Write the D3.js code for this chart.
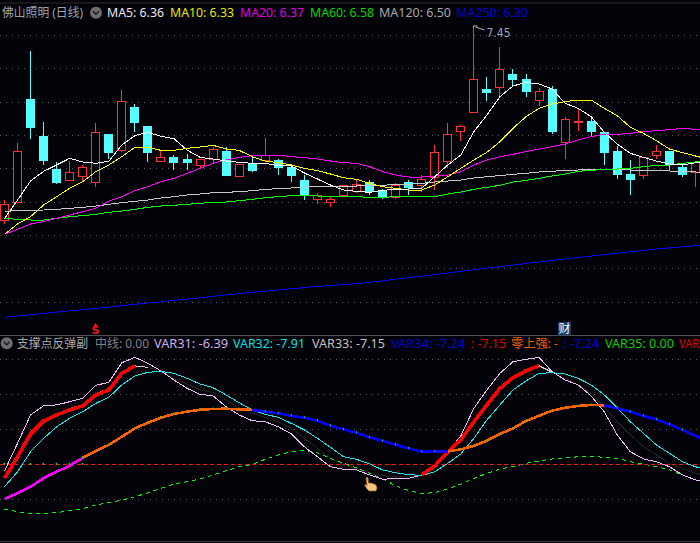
<!DOCTYPE html>
<html><head><meta charset="utf-8">
<script src="https://cdn.jsdelivr.net/npm/d3@7/dist/d3.min.js"></script>
<style>html,body{margin:0;padding:0;background:#020208;overflow:hidden}svg{display:block}</style>
</head><body><svg id="c" width="700" height="543"></svg>
<script>
// ---------- upper panel (prices) ----------
const highs=[6.41,6.75,7.304,6.878,6.636,6.644,6.62,6.872,6.806,7.07,6.986,6.854,6.71,6.68,6.686,6.656,6.728,6.728,6.626,6.666,6.782,6.656,6.626,6.56,6.452,6.426,6.5,6.53,6.53,6.476,6.51,6.53,6.558,6.74,6.872,6.86,7.442,7.146,7.328,7.196,7.166,7.08,7.094,6.908,6.962,6.9,6.818,6.734,6.65,6.668,6.74,6.702,6.626,6.638];
const bodyTop=[6.384,6.702,7.016,6.794,6.596,6.576,6.606,6.816,6.806,7.002,6.968,6.854,6.666,6.668,6.656,6.654,6.716,6.704,6.626,6.63,6.68,6.65,6.608,6.53,6.438,6.414,6.498,6.504,6.518,6.462,6.498,6.518,6.534,6.696,6.804,6.852,7.134,7.076,7.194,7.166,7.136,7.062,7.076,6.894,6.882,6.882,6.816,6.704,6.566,6.666,6.702,6.702,6.606,6.636];
const bodyBot=[6.288,6.396,6.848,6.65,6.518,6.532,6.556,6.516,6.698,6.71,6.878,6.698,6.644,6.638,6.638,6.62,6.656,6.56,6.554,6.59,6.65,6.61,6.56,6.44,6.414,6.396,6.44,6.462,6.464,6.426,6.426,6.488,6.498,6.548,6.644,6.822,6.936,7.058,7.086,7.136,7.064,7.012,6.824,6.76,6.876,6.824,6.698,6.566,6.536,6.56,6.68,6.626,6.566,6.578];
const lows=[6.266,6.396,6.776,6.62,6.506,6.532,6.518,6.488,6.656,6.698,6.818,6.638,6.644,6.59,6.59,6.604,6.63,6.56,6.55,6.578,6.65,6.56,6.518,6.41,6.386,6.368,6.44,6.45,6.44,6.414,6.416,6.44,6.46,6.47,6.6,6.764,6.936,7.004,7.026,7.088,7.028,6.974,6.806,6.656,6.824,6.794,6.62,6.536,6.44,6.536,6.656,6.584,6.548,6.488];
const rising=[1,1,0,0,0,1,1,1,0,1,0,0,1,0,0,1,1,0,1,0,1,0,0,0,1,1,1,1,0,0,1,0,1,1,1,1,1,0,1,0,0,1,0,1,1,0,0,0,0,1,1,0,0,1];
const ma5=[6.298,6.41,6.524,6.582,6.62,6.66,6.638,6.63,6.642,6.74,6.796,6.816,6.792,6.778,6.71,6.666,6.656,6.644,6.636,6.63,6.63,6.616,6.614,6.572,6.536,6.5,6.47,6.462,6.456,6.468,6.474,6.476,6.48,6.55,6.62,6.68,6.82,6.92,7.03,7.094,7.116,7.106,7.076,6.99,6.96,6.91,6.816,6.746,6.69,6.666,6.644,6.626,6.62,6.634,6.642];
const ma10=[6.204,6.266,6.31,6.38,6.43,6.48,6.52,6.58,6.62,6.67,6.726,6.726,6.708,6.708,6.72,6.728,6.738,6.716,6.708,6.67,6.644,6.634,6.62,6.6,6.586,6.566,6.544,6.534,6.51,6.49,6.48,6.47,6.47,6.5,6.55,6.6,6.65,6.696,6.76,6.84,6.91,6.96,6.986,7.0,7.01,7.01,6.96,6.916,6.846,6.81,6.766,6.716,6.694,6.674,6.654];
const ma20=[6.204,6.234,6.266,6.28,6.3,6.32,6.34,6.36,6.404,6.43,6.466,6.49,6.52,6.54,6.57,6.6,6.63,6.65,6.666,6.676,6.68,6.68,6.67,6.664,6.656,6.644,6.634,6.63,6.61,6.58,6.56,6.548,6.548,6.554,6.56,6.58,6.62,6.65,6.67,6.684,6.7,6.716,6.73,6.746,6.77,6.79,6.804,6.804,6.81,6.82,6.826,6.832,6.84,6.834,6.834];
const ma60=[6.3,6.294,6.29,6.29,6.3,6.31,6.316,6.324,6.336,6.344,6.354,6.366,6.374,6.378,6.384,6.39,6.396,6.398,6.406,6.414,6.424,6.43,6.436,6.438,6.434,6.432,6.43,6.43,6.426,6.426,6.43,6.43,6.43,6.43,6.446,6.458,6.474,6.486,6.498,6.518,6.528,6.54,6.554,6.566,6.582,6.588,6.594,6.596,6.6,6.61,6.618,6.62,6.63,6.638,6.642];
const ma120=[6.342,6.346,6.348,6.35,6.354,6.36,6.366,6.374,6.384,6.394,6.402,6.41,6.422,6.43,6.44,6.446,6.454,6.456,6.46,6.466,6.474,6.478,6.482,6.488,6.49,6.49,6.494,6.494,6.498,6.498,6.504,6.504,6.51,6.518,6.524,6.53,6.542,6.55,6.556,6.564,6.57,6.578,6.582,6.588,6.59,6.594,6.594,6.594,6.59,6.588,6.586,6.584,6.582,6.578,6.574];
const ma250=[5.706,5.714,5.722,5.73,5.738,5.745,5.752,5.76,5.768,5.776,5.784,5.792,5.799,5.808,5.816,5.823,5.832,5.84,5.848,5.856,5.863,5.871,5.878,5.885,5.892,5.897,5.902,5.908,5.916,5.925,5.934,5.944,5.953,5.962,5.973,5.982,5.992,6.002,6.01,6.02,6.029,6.038,6.048,6.056,6.065,6.074,6.082,6.091,6.1,6.108,6.116,6.123,6.13,6.136,6.144];
const priceGrid=[7.4,7.2,7.0,6.8,6.6,6.4,6.2,6.0,5.8];
// ---------- lower panel (indicator) ----------
const var31=[-3.3,10.5,24.7,29.3,29.7,31.3,33.0,39.5,41.0,50.8,53.5,50.5,46.7,42.2,38.0,35.0,34.2,28.8,24.7,21.8,21.3,18.8,15.2,8.8,3.8,-1.2,-2.5,-2.8,-5.3,-7.5,-7.0,-7.0,-5.3,-0.3,6.3,14.2,28.0,37.2,45.5,51.3,52.5,53.5,46.3,42.2,39.7,34.2,26.3,14.7,6.3,2.7,1.3,-1.2,-5.3,-7.8,-9];
const var32=[-11.2,-3.7,6.3,13.0,18.8,23.0,26.3,30.5,33.5,39.7,44.2,46.0,46.5,45.5,43.0,40.2,38.3,34.7,30.8,27.2,25.0,23.5,20.5,17.2,13.0,8.5,3.8,2.5,0.2,-2.8,-4.2,-5.2,-5.5,-3.7,0.5,5.2,13.0,22.2,29.7,37.2,41.7,45.5,45.8,45.2,43.0,39.7,34.7,28.3,21.3,15.5,9.7,5.5,1.3,-1.2,-3];
const var33=[-7.0,3.8,15.2,21.7,24.7,27.2,29.3,34.7,37.2,45.5,49.2,48.5,46.8,43.0,40.2,37.2,35.8,32.2,28.0,25.5,23.5,21.3,18.0,13.0,8.0,3.0,-0.3,-2.0,-4.5,-5.7,-6.2,-6.2,-5.3,-0.8,6.3,12.2,21.3,29.7,38.0,43.3,46.8,49.3,46.0,43.0,39.7,35.5,28.8,21.3,14.7,8.8,4.7,0.5,-2.0,-4.5,-6];
const var34=[-17.3,-14.5,-11.2,-7.0,-3.7,-0.7,3.3,6.7,9.7,13.8,18.0,20.8,23.3,25.2,26.3,27.3,27.7,27.8,27.5,27.2,26.3,25.5,24.3,23.3,21.8,19.3,17.5,15.8,13.5,11.7,9.7,8.0,6.3,6.3,6.5,7.5,9.2,11.8,15.2,18.0,21.7,24.3,26.8,28.3,29.2,29.7,29.5,28.0,26.3,24.2,22.5,20.0,17.2,14.2,11];
const var35=[-22.5,-23.7,-24.5,-24.5,-24.2,-23.2,-22.2,-20.3,-19.2,-17.8,-16.2,-14.2,-12.0,-9.8,-8.7,-7.3,-5.3,-3.2,-1.2,0,2.5,4.7,6.3,7.0,5.8,3.0,0.5,-1.7,-4.5,-7.3,-10.7,-13.2,-14.5,-14.2,-12.3,-9.8,-7.0,-4.5,-2.3,-1.2,0.5,1.7,2.7,3.3,3.8,4.0,3.5,3.0,1.3,0.2,-1.2,-2.8,-5.3,-7.8,-9.5];
const indGrid=[52.5,35,17.5,-17.5];
const redRanges=[[0,10],[32,41]];
const whiteRanges=[[10,11],[41,42]];
const magentaRanges=[[0,6]];
const orangeRanges=[[6,19],[34,46]];
const blueRanges=[[19,34],[46,54]];
const zeroTicks=[0,2,3,4,5,6];
const lineTicks=[6,7,8,10,11,12,13,14,15,16,17,18,20,21,22,23,24,25,26,27,28,29,30,31,32,33,35,36,37,38,39,40,41,42,43,44,45,47,48,49,50,51,52];
// ---------- text ----------
const upperLabels=["佛山照明 (日线)","MA5: 6.36","MA10: 6.33","MA20: 6.37","MA60: 6.58","MA120: 6.50","MA250: 6.30"];
const upperColors=["#9aa4b0","#e8e8e8","#e8e800","#e000e0","#00d800","#a8a8a8","#0000d8"];
const upperX=[2,107,170,240,310,379,456];
const upperW=[81,57,64,64,64,72,72];
const lowerLabels=["支撑点反弹副","中线: 0.00","VAR31: -6.39","VAR32: -7.91","VAR33: -7.15","VAR34: -7.24",": -7.15","零上强: -",": -7.24","VAR35: 0.00","VAR"];
const lowerColors=["#a8a8a8","#808080","#d0b0f0","#00e0e0","#c0c0c0","#0000d8","#e00000","#f06000","#0000d8","#00d000","#e00000"];
const lowerX=[17,95,154,233,312,391,471,511,563,605,679];
const lowerW=[71,54,74,72,73,74,35,47,36,69,20];
const peakLabel="7.45";

const svg=d3.select("#c");
const bg="#020208";
svg.append("rect").attr("width",700).attr("height",543).attr("fill",bg);
const x=d3.scaleLinear().domain([0,53]).range([4.5,695.5]);
const y=d3.scaleLinear().domain([7.61,5.6]).range([0,335]);
const yi=d3.scaleLinear().domain([0,-10]).range([464.33,484.33]);
const idx=d3.range(55);
// frame lines
[[3,"#2c2c2c"],[335.5,"#505050"],[541.5,"#404040"]].forEach(([p,c])=>svg.append("line").attr("x1",0).attr("x2",700).attr("y1",p).attr("y2",p).attr("stroke",c));
// grids
const dot="1 5";
svg.append("g").selectAll("line").data(priceGrid).join("line").attr("x1",0).attr("x2",700)
 .attr("y1",d=>Math.round(y(d))+.5).attr("y2",d=>Math.round(y(d))+.5).attr("stroke","#5a5a5a").attr("stroke-dasharray",dot);
svg.append("g").selectAll("line").data(indGrid).join("line").attr("x1",0).attr("x2",700)
 .attr("y1",d=>Math.round(yi(d))+.5).attr("y2",d=>Math.round(yi(d))+.5).attr("stroke","#5a5a5a").attr("stroke-dasharray",dot);
// candles
const red="#ff3232",cyan="#54ffff";
const snap=v=>Math.round(v)+.5;
const cg=svg.append("g").attr("shape-rendering","crispEdges");
d3.range(54).forEach(i=>{
  const c=rising[i]?red:cyan, X=Math.floor(x(i))+.5;
  const t=snap(y(bodyTop[i])), b=snap(y(bodyBot[i]));
  cg.append("line").attr("x1",X).attr("x2",X).attr("y1",y(highs[i])).attr("y2",t).attr("stroke",c);
  cg.append("line").attr("x1",X).attr("x2",X).attr("y1",b).attr("y2",y(lows[i])).attr("stroke",c);
  cg.append("rect").attr("x",X-4).attr("width",8).attr("y",t).attr("height",Math.max(b-t,1))
    .attr("fill",rising[i]?bg:cyan).attr("stroke",c);
});
// moving averages
const lineP=d3.line().x((d,i)=>x(i)).y(d=>y(d));
[[ma250,"#0000ff"],[ma120,"#c8c8c8"],[ma60,"#00ff00"],[ma20,"#ff00ff"],[ma10,"#ffff00"],[ma5,"#ffffff"]].forEach(([d,c])=>
  svg.append("path").attr("d",lineP(d)).attr("fill","none").attr("stroke",c).attr("stroke-width",1).attr("shape-rendering","crispEdges"));
// peak annotation
const px=Math.floor(x(36))+.5, py=y(highs[36]);
svg.append("path").attr("d",`M${px},${py} L${px},${py-2} L${px+4},${py-2} M${px+2},${py-1} L${px+11},${py+2}`)
  .attr("fill","none").attr("stroke","#b0b0b0");
svg.append("text").attr("x",px+13).attr("y",py+9).attr("fill","#a0a8b4").attr("font-size",12.5)
  .attr("font-family","DejaVu Sans").attr("textLength",24).attr("lengthAdjust","spacingAndGlyphs").text(peakLabel);
// headers
function headers(labels,colors,xs,ws,base){
  labels.forEach((t,i)=>{
    svg.append("text").attr("x",xs[i]).attr("y",base).attr("fill",colors[i]).attr("font-size",12.5)
      .attr("font-family","'Noto Sans','Noto Sans CJK SC',sans-serif")
      .attr("textLength",ws[i]).attr("lengthAdjust","spacingAndGlyphs").text(t);
  });
}
headers(upperLabels,upperColors,upperX,upperW,17);
headers(lowerLabels,lowerColors,lowerX,lowerW,348);
function toggle(cx,cy){
  svg.append("circle").attr("cx",cx).attr("cy",cy).attr("r",6).attr("fill","#6e6e6e");
  svg.append("path").attr("d",`M${cx-3},${cy-1.5} L${cx},${cy+1.5} L${cx+3},${cy-1.5}`).attr("fill","none").attr("stroke","#1a1a1a").attr("stroke-width",1.4);
}
toggle(96,12.7); toggle(6.7,343.3);
// S marker and 财 marker
const sx=Math.floor(x(7))+.5;
svg.append("text").attr("x",sx).attr("y",334).attr("text-anchor","middle").attr("fill","#ff1010").attr("font-size",11)
  .attr("font-weight","bold").attr("font-family","DejaVu Sans").text("S");
svg.append("path").attr("d",`M${sx-2},326 L${sx},323 L${sx+2},326 Z`).attr("fill","#ff1010");
svg.append("rect").attr("x",558).attr("y",322).attr("width",13).attr("height",13).attr("fill","#0c3c6c");
svg.append("text").attr("x",564.5).attr("y",333).attr("text-anchor","middle").attr("fill","#ffffff").attr("font-size",12)
  .attr("font-family","'Noto Sans CJK SC'").text("财");
// indicator
const path=(arr,range,c,w,dash)=>{
  const p=svg.append("path").attr("d",d3.line().x(i=>x(i)).y(i=>yi(arr[i]))(range))
   .attr("fill","none").attr("stroke",c).attr("stroke-width",w).attr("shape-rendering","crispEdges");
  if(dash) p.attr("stroke-dasharray",dash);
  return p;
};
path(var33,idx,"#222226",1);
path(var35,idx,"#00ff00",1,"4 4");
svg.append("line").attr("x1",0).attr("x2",700).attr("y1",Math.round(yi(0))+.5).attr("y2",Math.round(yi(0))+.5).attr("stroke","#ff1414").attr("stroke-dasharray","4 3");
path(var31,idx,"#eebcf6",1);
path(var32,idx,"#18e8e8",1);
whiteRanges.forEach(([a,b])=>path(var33,d3.range(a,b+1),"#d8d8d8",1));
redRanges.forEach(([a,b])=>path(var33,d3.range(a,b+1),"#ff0000",3.6));
magentaRanges.forEach(([a,b])=>path(var34,d3.range(a,b+1),"#ff00ff",2.6));
orangeRanges.forEach(([a,b])=>path(var34,d3.range(a,b+1),"#ff6000",2.6));
blueRanges.forEach(([a,b])=>path(var34,d3.range(a,b+1),"#0000ff",2.6));
svg.append("g").selectAll("rect").data(lineTicks).join("rect").attr("x",i=>x(i)-.5).attr("y",i=>yi(var34[i])-1.5).attr("width",1).attr("height",2).attr("fill","#30d030");
svg.append("g").selectAll("rect").data(zeroTicks).join("rect").attr("x",i=>x(i)-1).attr("y",yi(0)-1.5).attr("width",1.5).attr("height",2).attr("fill","#30d030");
// hand pointer
svg.append("path").attr("transform","translate(364,477)")
 .attr("d","M2,1 Q3,-1 4,1 L4.5,6 L7,6 L10,7 L12,8 L13,11 L12,14 L5,14 L3,12 L0.5,8 Q1,7 3,8.5 Z")
 .attr("fill","#f6c67a").attr("stroke","#9a5e20").attr("stroke-width",.8);
</script></body></html>
